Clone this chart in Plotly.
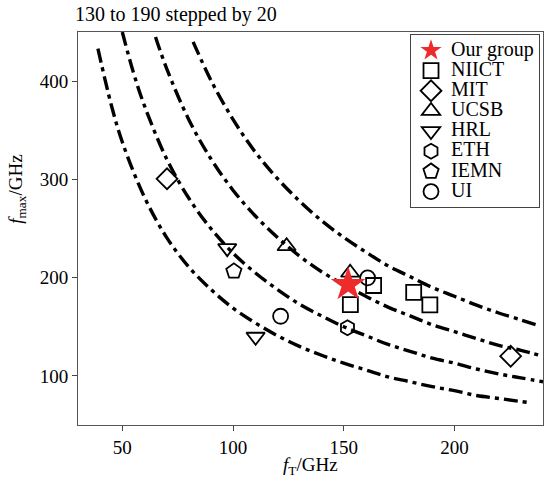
import plotly.graph_objects as go

# Reference curves: sqrt(fT*fmax) = 130, 150, 170, 190 GHz
c130_ft = [39, 45, 50, 60, 70, 80, 90, 100, 110, 120, 130, 140, 150, 160, 170, 180, 190, 200, 210, 220, 233]
c130_fm = [433, 376, 338, 282, 241, 211, 188, 169, 154, 141, 130, 121, 113, 106, 99, 94, 89, 85, 80, 77, 73]
c150_ft = [50, 55, 60, 70, 80, 90, 100, 110, 120, 130, 140, 150, 160, 170, 180, 190, 200, 210, 220, 230, 240]
c150_fm = [450, 409, 375, 321, 281, 250, 225, 205, 188, 173, 161, 150, 141, 132, 125, 118, 113, 107, 102, 98, 94]
c170_ft = [65, 70, 80, 90, 100, 110, 120, 130, 140, 150, 160, 170, 180, 190, 200, 210, 220, 230, 240]
c170_fm = [445, 413, 361, 321, 289, 263, 241, 222, 206, 193, 181, 170, 161, 152, 145, 138, 131, 126, 120]
c190_ft = [82, 90, 100, 110, 120, 130, 140, 150, 160, 170, 180, 190, 200, 210, 220, 230, 237]
c190_fm = [440, 401, 361, 328, 301, 278, 258, 241, 226, 212, 201, 190, 181, 172, 164, 157, 152]

groups = ["Our group", "NIICT", "MIT", "UCSB", "HRL", "ETH", "IEMN", "UI"]
group_ft = [[152], [153, 163.5, 181.6, 188.9], [70.2, 225.4], [124.2, 152.9], [97.4, 110.2], [151.7], [100.4], [121.5, 160.8]]
group_fm = [[193], [172.6, 192, 185, 172.3], [300.6, 120], [232, 205], [230, 139.8], [149], [206.5], [160.7, 199.8]]
symbols = ["star", "square-open", "diamond-open", "triangle-up-open", "triangle-down-open",
           "hexagon-open", "pentagon-open", "circle-open"]
sizes = [26, 15, 16, 16, 16, 15, 16, 15]

FONT = "Liberation Serif"
fig = go.Figure()

dash = "14px,5px,4px,5px"
for xs, ys in [(c130_ft, c130_fm), (c150_ft, c150_fm), (c170_ft, c170_fm), (c190_ft, c190_fm)]:
    fig.add_trace(go.Scatter(x=xs, y=ys, mode="lines", showlegend=False,
                             line=dict(color="black", width=3.4, dash=dash, shape="spline"),
                             hoverinfo="skip"))

order = [1, 2, 3, 4, 5, 6, 7, 0]
for i in order:
    if i == 0:
        marker = dict(symbol=symbols[i], size=sizes[i], color="#ee2a2a", line=dict(width=0))
    else:
        marker = dict(symbol=symbols[i], size=sizes[i], color="black", line=dict(width=1.8, color="black"))
    fig.add_trace(go.Scatter(x=group_ft[i], y=group_fm[i], mode="markers",
                             name='<span style="font-size:20px">' + groups[i] + '</span>',
                             marker=marker, legendrank=i + 1))

fig.update_layout(
    width=545, height=483,
    margin=dict(l=78, r=2, t=32, b=58),
    paper_bgcolor="white", plot_bgcolor="white",
    font=dict(family=FONT, size=19, color="black"),
    showlegend=True,
    legend=dict(x=0.714, y=0.994, xanchor="left", yanchor="top",
                bordercolor="#444", borderwidth=1, bgcolor="white",
                font=dict(family=FONT, size=13.2), tracegroupgap=0,
                itemwidth=30),
    xaxis=dict(range=[30, 240], tickvals=[50, 100, 150, 200], ticks="outside", ticklen=5,
               showgrid=False, zeroline=False, showline=True, linecolor="#555", linewidth=1,
               mirror=True, tickfont=dict(family=FONT, size=19)),
    yaxis=dict(range=[50, 450], tickvals=[100, 200, 300, 400], ticks="outside", ticklen=5,
               showgrid=False, zeroline=False, showline=True, linecolor="#555", linewidth=1,
               mirror=True, tickfont=dict(family=FONT, size=19)),
    annotations=[
        dict(text="130 to 190 stepped by 20", xref="paper", yref="paper", x=-0.011, y=1.044,
             xanchor="left", yanchor="middle", showarrow=False, font=dict(family=FONT, size=20)),
        dict(text="<i>f</i><sub>T</sub>/GHz", xref="paper", yref="paper", x=0.499, y=-0.104,
             xanchor="center", yanchor="middle", showarrow=False, font=dict(family=FONT, size=19)),
        dict(text="<i>f</i><sub>max</sub>/GHz", xref="paper", yref="paper", x=-0.13, y=0.6,
             xanchor="center", yanchor="middle", textangle=-90, showarrow=False,
             font=dict(family=FONT, size=19)),
    ],
)

fig.write_html("out.html")
